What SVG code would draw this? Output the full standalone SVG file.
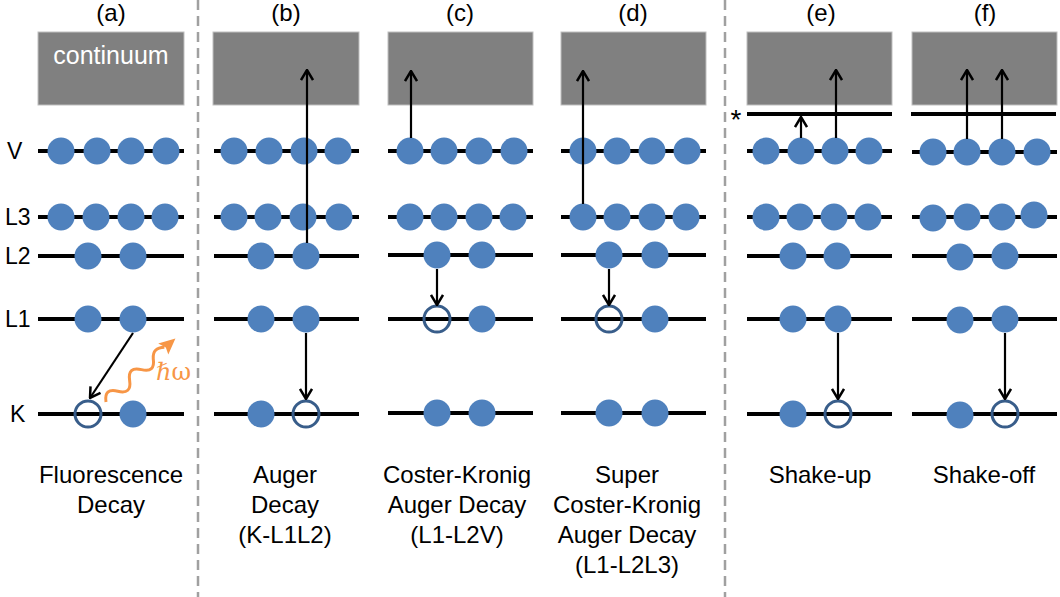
<svg xmlns="http://www.w3.org/2000/svg" width="1060" height="597" viewBox="0 0 1060 597">
<style>
text{font-family:"Liberation Sans",Arial,sans-serif;fill:#000}
.hd{font-size:24px;text-anchor:middle}
.lb{font-size:24px;text-anchor:middle}
.lv{font-size:23px}
.cont{fill:#808080;stroke:#BFBFBF;stroke-width:1}
.lvl{stroke:#000;stroke-width:4}
.e{fill:#4F81BD}
.h{fill:none;stroke:#385D8A;stroke-width:3}
.ar{stroke:#000;stroke-width:2.2;fill:none;marker-end:url(#ah)}
.sep{stroke:#A0A0A0;stroke-width:2.5;stroke-dasharray:10 6}
</style>
<defs>
<marker id="ah" markerUnits="userSpaceOnUse" viewBox="0 0 12 14" refX="11" refY="7" markerWidth="12" markerHeight="14" orient="auto">
<path d="M1,1 L11,7 L1,13" fill="none" stroke="#000" stroke-width="2.5"/>
</marker>
</defs>
<rect width="1060" height="597" fill="#fff"/>
<g id="separators">
<line class="sep" x1="198" y1="0" x2="198" y2="597"/>
<line class="sep" x1="725" y1="0" x2="725" y2="597"/>
</g>
<g id="level-labels">
<text class="lv" x="7" y="159">V</text>
<text class="lv" x="5" y="225">L3</text>
<text class="lv" x="5" y="264">L2</text>
<text class="lv" x="5" y="327">L1</text>
<text class="lv" x="10" y="422">K</text>
<text x="736" y="129" style="font-size:28px;text-anchor:middle">*</text>
</g>
<g id="panel-a">
<text class="hd" x="111" y="21">(a)</text>
<rect class="cont" x="38" y="32" width="146" height="73"/>
<text x="111" y="64" style="font-size:25px;text-anchor:middle;fill:#fff">continuum</text>
<line class="lvl" x1="38" y1="151" x2="184" y2="151"/>
<line class="lvl" x1="38" y1="217" x2="184" y2="217"/>
<line class="lvl" x1="38" y1="256" x2="184" y2="256"/>
<line class="lvl" x1="38" y1="319" x2="184" y2="319"/>
<line class="lvl" x1="38" y1="414" x2="184" y2="414"/>
<circle class="e" cx="61" cy="151" r="13.5"/><circle class="e" cx="97" cy="151" r="13.5"/><circle class="e" cx="131" cy="151" r="13.5"/><circle class="e" cx="166" cy="151" r="13.5"/>
<circle class="e" cx="61" cy="217" r="13.5"/><circle class="e" cx="96" cy="217" r="13.5"/><circle class="e" cx="131" cy="217" r="13.5"/><circle class="e" cx="165" cy="217" r="13.5"/>
<circle class="e" cx="88" cy="256" r="13.5"/><circle class="e" cx="133" cy="256" r="13.5"/>
<circle class="e" cx="88" cy="319" r="13.5"/><circle class="e" cx="133" cy="319" r="13.5"/>
<circle class="h" cx="88" cy="414" r="13"/><circle class="e" cx="133" cy="414" r="13.5"/>
<text class="lb" x="111" y="483">Fluorescence</text>
<text class="lb" x="111" y="513">Decay</text>
</g>
<g id="panel-b">
<text class="hd" x="286" y="21">(b)</text>
<rect class="cont" x="213" y="32" width="146" height="73"/>
<line class="lvl" x1="214" y1="151" x2="359" y2="151"/>
<line class="lvl" x1="214" y1="217" x2="359" y2="217"/>
<line class="lvl" x1="214" y1="256" x2="359" y2="256"/>
<line class="lvl" x1="214" y1="319" x2="359" y2="319"/>
<line class="lvl" x1="214" y1="414" x2="359" y2="414"/>
<circle class="e" cx="234" cy="151" r="13.5"/><circle class="e" cx="269" cy="151" r="13.5"/><circle class="e" cx="304" cy="151" r="13.5"/><circle class="e" cx="338" cy="151" r="13.5"/>
<circle class="e" cx="234" cy="217" r="13.5"/><circle class="e" cx="268" cy="217" r="13.5"/><circle class="e" cx="303" cy="217" r="13.5"/><circle class="e" cx="339" cy="217" r="13.5"/>
<circle class="e" cx="261" cy="256" r="13.5"/><circle class="e" cx="306" cy="256" r="13.5"/>
<circle class="e" cx="261" cy="319" r="13.5"/><circle class="e" cx="306" cy="319" r="13.5"/>
<circle class="e" cx="261" cy="414" r="13.5"/><circle class="h" cx="306" cy="414" r="13"/>
<text class="lb" x="285" y="483">Auger</text>
<text class="lb" x="285" y="513">Decay</text>
<text class="lb" x="285" y="543">(K-L1L2)</text>
</g>
<g id="panel-c">
<text class="hd" x="460" y="21">(c)</text>
<rect class="cont" x="388" y="32" width="145" height="73"/>
<line class="lvl" x1="388" y1="151" x2="533" y2="151"/>
<line class="lvl" x1="388" y1="217" x2="533" y2="217"/>
<line class="lvl" x1="388" y1="255" x2="533" y2="255"/>
<line class="lvl" x1="388" y1="319" x2="533" y2="319"/>
<line class="lvl" x1="388" y1="413" x2="533" y2="413"/>
<circle class="e" cx="410" cy="151" r="13.5"/><circle class="e" cx="444" cy="151" r="13.5"/><circle class="e" cx="479" cy="151" r="13.5"/><circle class="e" cx="514" cy="151" r="13.5"/>
<circle class="e" cx="410" cy="217" r="13.5"/><circle class="e" cx="444" cy="217" r="13.5"/><circle class="e" cx="479" cy="217" r="13.5"/><circle class="e" cx="513" cy="217" r="13.5"/>
<circle class="e" cx="437" cy="255" r="13.5"/><circle class="e" cx="482" cy="255" r="13.5"/>
<circle class="h" cx="437" cy="319" r="13"/><circle class="e" cx="482" cy="319" r="13.5"/>
<circle class="e" cx="437" cy="413" r="13.5"/><circle class="e" cx="482" cy="413" r="13.5"/>
<text class="lb" x="457" y="483">Coster-Kronig</text>
<text class="lb" x="457" y="513">Auger Decay</text>
<text class="lb" x="457" y="543">(L1-L2V)</text>
</g>
<g id="panel-d">
<text class="hd" x="633" y="21">(d)</text>
<rect class="cont" x="561" y="32" width="145" height="73"/>
<line class="lvl" x1="561" y1="151" x2="706" y2="151"/>
<line class="lvl" x1="561" y1="217" x2="706" y2="217"/>
<line class="lvl" x1="561" y1="255" x2="706" y2="255"/>
<line class="lvl" x1="561" y1="319" x2="706" y2="319"/>
<line class="lvl" x1="561" y1="413" x2="706" y2="413"/>
<circle class="e" cx="583" cy="151" r="13.5"/><circle class="e" cx="617" cy="151" r="13.5"/><circle class="e" cx="652" cy="151" r="13.5"/><circle class="e" cx="687" cy="151" r="13.5"/>
<circle class="e" cx="583" cy="217" r="13.5"/><circle class="e" cx="617" cy="217" r="13.5"/><circle class="e" cx="652" cy="217" r="13.5"/><circle class="e" cx="686" cy="217" r="13.5"/>
<circle class="e" cx="609" cy="255" r="13.5"/><circle class="e" cx="655" cy="255" r="13.5"/>
<circle class="h" cx="609" cy="319" r="13"/><circle class="e" cx="655" cy="319" r="13.5"/>
<circle class="e" cx="609" cy="413" r="13.5"/><circle class="e" cx="655" cy="413" r="13.5"/>
<text class="lb" x="627" y="483">Super</text>
<text class="lb" x="627" y="513">Coster-Kronig</text>
<text class="lb" x="627" y="543">Auger Decay</text>
<text class="lb" x="627" y="573">(L1-L2L3)</text>
</g>
<g id="panel-e">
<text class="hd" x="821" y="21">(e)</text>
<rect class="cont" x="747" y="32" width="145" height="73"/>
<line class="lvl" x1="747" y1="114" x2="892" y2="114"/>
<line class="lvl" x1="747" y1="151" x2="892" y2="151"/>
<line class="lvl" x1="747" y1="217" x2="892" y2="217"/>
<line class="lvl" x1="747" y1="256" x2="892" y2="256"/>
<line class="lvl" x1="747" y1="319" x2="892" y2="319"/>
<line class="lvl" x1="747" y1="414" x2="892" y2="414"/>
<circle class="e" cx="766" cy="151" r="13.5"/><circle class="e" cx="801" cy="151" r="13.5"/><circle class="e" cx="835" cy="151" r="13.5"/><circle class="e" cx="869" cy="151" r="13.5"/>
<circle class="e" cx="766" cy="217" r="13.5"/><circle class="e" cx="800" cy="217" r="13.5"/><circle class="e" cx="834" cy="217" r="13.5"/><circle class="e" cx="868" cy="217" r="13.5"/>
<circle class="e" cx="793" cy="256" r="13.5"/><circle class="e" cx="837" cy="256" r="13.5"/>
<circle class="e" cx="793" cy="319" r="13.5"/><circle class="e" cx="838" cy="319" r="13.5"/>
<circle class="e" cx="793" cy="414" r="13.5"/><circle class="h" cx="838" cy="414" r="13"/>
<text class="lb" x="820" y="483">Shake-up</text>
</g>
<g id="panel-f">
<text class="hd" x="985" y="21">(f)</text>
<rect class="cont" x="912" y="32" width="145" height="73"/>
<line class="lvl" x1="911" y1="114" x2="1056" y2="114"/>
<line class="lvl" x1="912" y1="152" x2="1057" y2="152"/>
<line class="lvl" x1="912" y1="217" x2="1057" y2="217"/>
<line class="lvl" x1="912" y1="256" x2="1057" y2="256"/>
<line class="lvl" x1="912" y1="319" x2="1057" y2="319"/>
<line class="lvl" x1="912" y1="414" x2="1057" y2="414"/>
<circle class="e" cx="933" cy="152" r="13.5"/><circle class="e" cx="967" cy="152" r="13.5"/><circle class="e" cx="1002" cy="152" r="13.5"/><circle class="e" cx="1037" cy="152" r="13.5"/>
<circle class="e" cx="933" cy="218" r="13.5"/><circle class="e" cx="967" cy="217" r="13.5"/><circle class="e" cx="1002" cy="217" r="13.5"/><circle class="e" cx="1034" cy="215" r="13.5"/>
<circle class="e" cx="960" cy="257" r="13.5"/><circle class="e" cx="1005" cy="256" r="13.5"/>
<circle class="e" cx="960" cy="320" r="13.5"/><circle class="e" cx="1005" cy="319" r="13.5"/>
<circle class="e" cx="960" cy="415" r="13.5"/><circle class="h" cx="1005" cy="414" r="13"/>
<text class="lb" x="984" y="483">Shake-off</text>
</g>
<g id="connectors">
<line class="ar" x1="133" y1="333" x2="90" y2="398"/>
<g transform="translate(106,402) rotate(-42.4)">
<path d="M0,0 Q8,-12 16,0 T32,0 T48,0 T64,0 Q71,-9 80,-1" fill="none" stroke="#F79646" stroke-width="3"/>
<polygon points="78,-8 94,0 78,7 81,0" fill="#F79646"/>
</g>
<text x="156" y="380" style="font-family:'DejaVu Serif',serif;font-size:24px;fill:#F79646">ℏω</text>
<line class="ar" x1="307" y1="243" x2="307" y2="70"/>
<line class="ar" x1="306" y1="333" x2="306" y2="399"/>
<line class="ar" x1="411" y1="138" x2="411" y2="71"/>
<line class="ar" x1="437" y1="269" x2="437" y2="305"/>
<line class="ar" x1="583" y1="204" x2="583" y2="71"/>
<line class="ar" x1="609" y1="269" x2="609" y2="305"/>
<line class="ar" x1="801" y1="138" x2="801" y2="117"/>
<line class="ar" x1="836" y1="138" x2="836" y2="70"/>
<line class="ar" x1="838" y1="333" x2="838" y2="399"/>
<line class="ar" x1="967" y1="139" x2="967" y2="70"/>
<line class="ar" x1="1002" y1="139" x2="1002" y2="70"/>
<line class="ar" x1="1005" y1="333" x2="1005" y2="399"/>
</g>
</svg>
